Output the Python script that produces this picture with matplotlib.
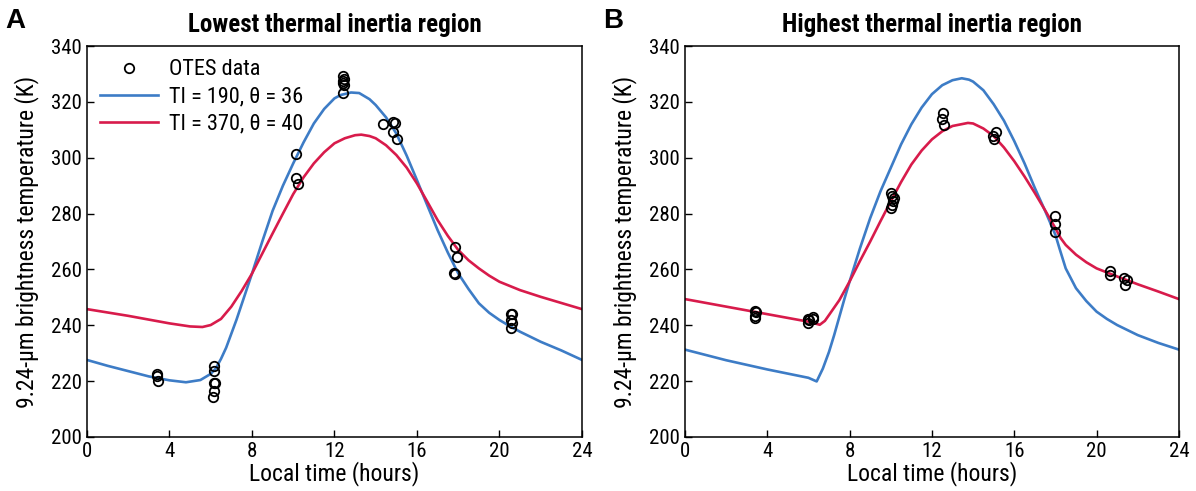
import matplotlib
matplotlib.use('Agg')
import matplotlib.pyplot as plt

plt.rcParams['font.family'] = ['Roboto Condensed', 'Archivo Narrow', 'PT Sans Narrow',
                               'Liberation Sans Narrow', 'DejaVu Sans']

# panel A - lowest thermal inertia region
a_t = [0, 1, 2, 3, 4, 4.8, 5.5, 6, 6.25, 6.5, 6.75, 7, 7.25, 7.5, 7.75, 8, 8.5, 9, 9.5, 10,
       10.5, 11, 11.5, 12, 12.3, 12.8, 13.2, 13.7, 14, 14.5, 15, 15.5, 16, 16.5, 17, 17.5,
       18, 18.5, 19, 19.5, 20, 20.5, 21, 22, 23, 24]
a_blue = [227.6, 225.5, 223.6, 221.7, 220.3, 219.6, 220.4, 222.6, 224.6, 228, 232, 237, 242, 247.5, 253, 258.5, 270, 281, 290, 298,
          305.5, 312.3, 317.5, 321.3, 322.5, 323.4, 323.2, 321, 318.9, 314.5, 308.7, 300.8, 292, 283, 274.1, 266,
          258.6, 253, 247.9, 244.5, 241.9, 239.7, 237.7, 234.1, 231, 227.6]
a_red_t = [0, 2, 4, 5, 5.6, 6, 6.5, 7, 7.5, 8, 8.5, 9, 9.5, 10, 10.5, 11, 11.5, 12, 12.5, 13, 13.3,
           13.7, 14, 14.5, 15, 15.5, 16, 16.5, 17, 17.5, 18, 18.5, 19, 19.5, 20, 21, 22, 23, 24]
a_red = [245.8, 243.4, 240.7, 239.6, 239.4, 240.1, 242.3, 246.7, 252.3, 258.5, 265.7, 272.9, 280, 287, 293, 298, 302, 305.2, 307, 308.1, 308.3,
         307.8, 307, 304.5, 301, 296.5, 290.8, 284.3, 277.7, 272, 267, 263.3, 260.4, 257.8, 255.6, 252.6, 250.2, 248, 245.8]
a_obs_t = [3.41, 3.41, 3.45, 6.16, 6.14, 6.16, 6.2, 6.14, 6.12,
           10.13, 10.13, 10.25, 12.43, 12.45, 12.42, 12.43, 12.45, 12.42,
           14.37, 14.85, 14.93, 14.85, 15.02, 17.84, 17.96, 17.8, 17.84,
           20.55, 20.62, 20.58, 20.62, 20.55]
a_obs = [222.6, 221.8, 220.2, 225.4, 223.6, 219.2, 219.2, 216.4, 214.4,
         301.2, 292.6, 290.6, 329.2, 328.4, 327.6, 326.9, 326.0, 323.3,
         312.0, 312.9, 312.3, 309.3, 306.6, 268.1, 264.6, 258.8, 258.3,
         244.2, 244.2, 241.9, 240.9, 238.9]

# panel B - highest thermal inertia region
b_t = [0, 2, 4, 6, 6.4, 6.7, 7, 7.25, 7.5, 7.75, 8, 8.5, 9, 9.5, 10, 10.5, 11, 11.5, 12, 12.5, 13,
       13.45, 13.8, 14, 14.5, 15, 15.5, 16, 16.5, 17, 17.5, 18, 18.2, 18.5, 19, 19.5, 20, 20.5,
       21, 22, 23, 24]
b_blue = [231.3, 227.5, 224.2, 221.2, 219.9, 224.5, 230.5, 236.5, 243, 249.5, 255.7, 267.5, 278.4, 288, 296.4, 304.8, 312, 318, 322.8, 326, 327.8,
          328.5, 328, 327.3, 324.2, 319.2, 313.3, 306, 298, 289.2, 281, 272.4, 267.5, 260.4, 253.3, 248.7, 244.9, 242.3,
          240.1, 236.5, 233.7, 231.3]
b_red_t = [0, 2, 4, 6, 6.55, 6.8, 7, 7.5, 8, 8.5, 9, 9.5, 10, 10.5, 11, 11.5, 12, 12.5, 13, 13.75, 14,
           14.5, 15, 15.5, 16, 16.5, 17, 17.5, 18, 18.25, 18.5, 19, 19.5, 20, 21, 22, 23, 24]
b_red = [249.4, 246.7, 244, 241.3, 240.2, 241.6, 243.7, 249, 255.7, 263, 270, 277.3, 284.4, 291.3, 297.6, 302.6, 306.6, 309.5, 311.4, 312.5, 312.3,
         310.5, 307.8, 303.7, 298.8, 293.3, 287.4, 281.2, 274.8, 271.3, 268.8, 265.3, 262.6, 260.4, 257.5, 254.7, 252.1, 249.4]
b_obs_t = [3.42, 3.45, 3.4, 3.42, 5.97, 6.2, 6.05, 6.0, 6.22,
           10.0, 10.05, 10.15, 10.1, 10.05, 10.02, 12.52, 12.5, 12.57,
           15.1, 14.97, 15.0, 17.98, 18.0, 17.98, 20.65, 20.63,
           21.35, 21.5, 21.38]
b_obs = [245.3, 244.6, 243.3, 242.8, 242.3, 243.0, 241.9, 240.8, 242.3,
         287.4, 286.2, 285.6, 284.4, 283.2, 282.0, 315.9, 313.8, 311.7,
         309.2, 307.8, 306.9, 279.3, 276.3, 273.6, 259.5, 258.2,
         256.8, 256.3, 254.3]

blue = '#3d7cc6'
red = '#d81b4b'

fig = plt.figure(figsize=(11.96, 4.91), dpi=100)
ax1 = fig.add_axes([0.0727, 0.11, 0.4139, 0.796])
ax2 = fig.add_axes([0.5727, 0.11, 0.4130, 0.796])

panels = [
    (ax1, a_t, a_blue, a_red_t, a_red, a_obs_t, a_obs, 'Lowest thermal inertia region', 'A'),
    (ax2, b_t, b_blue, b_red_t, b_red, b_obs_t, b_obs, 'Highest thermal inertia region', 'B'),
]

for ax, t, bl, rt, rd, ot, ob, title, letter in panels:
    ax.plot(ot, ob, 'o', mfc='none', mec='black', ms=6.8, mew=1.3, label='OTES data', zorder=3)
    ax.plot(t, bl, color=blue, lw=1.9, label='TI = 190, θ = 36')
    ax.plot(rt, rd, color=red, lw=1.9, label='TI = 370, θ = 40')
    ax.set_xlim(0, 24)
    ax.set_ylim(200, 340)
    ax.set_xticks(range(0, 25, 4))
    ax.set_yticks(range(200, 341, 20))
    ax.tick_params(direction='in', length=5, labelsize=15, width=1)
    ax.set_xlabel('Local time (hours)', fontsize=17, labelpad=0)
    ax.set_ylabel('9.24-µm brightness temperature (K)', fontsize=17, labelpad=9)
    ax.set_title(title, fontsize=18, fontweight='bold', pad=10)
    for s in ax.spines.values():
        s.set_linewidth(1.1)
    ax.text(-0.165, 1.03, letter, transform=ax.transAxes, fontsize=20,
            fontweight='bold', family=['Liberation Sans', 'DejaVu Sans'], va='bottom')

ax1.legend(loc='upper left', frameon=False, fontsize=16, handlelength=2.6,
           handletextpad=0.5, labelspacing=0.28, borderaxespad=0.2)

fig.savefig('out.png', dpi=100)
